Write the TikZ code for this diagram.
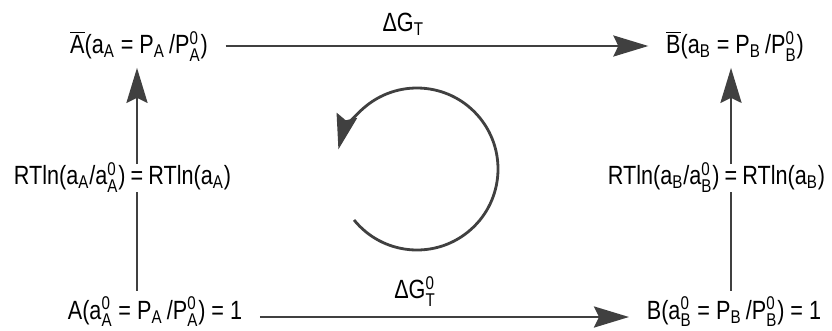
\documentclass[tikz,border=0pt]{standalone}
\usepackage{amsmath}
\usepackage{fontspec}
\setmainfont{Liberation Sans}[FakeStretch=0.82]
\usetikzlibrary{arrows.meta,positioning}
\newcommand{\supsub}[2]{\ensuremath{^{\text{#1}}_{\text{#2}}}}
\newcommand{\lowsub}[1]{\ensuremath{_{\text{#1}}}}
\begin{document}
\begin{tikzpicture}[
  font=\fontsize{15}{18}\selectfont,
  state/.style={inner xsep=0.35cm, inner ysep=0.12cm},
  eqsign/.style={inner xsep=0.5pt, inner ysep=0pt, minimum height=0.54cm},
  arr/.style={draw=black!75, line width=1.6pt,
    -{Stealth[length=0.7cm, width=0.42cm, inset=0.1cm]}},
  plain/.style={draw=black!75, line width=1.6pt}
]
\useasboundingbox (0,0) rectangle (16.64,6.6);

\node[state] (Ab) at (2.78,5.68) {$\overline{\mbox{A}}$(a\lowsub{A} = P\lowsub{A}\,/P\supsub{0}{A})};
\node[state] (Bb) at (14.70,5.68) {$\overline{\mbox{B}}$(a\lowsub{B} = P\lowsub{B}\,/P\supsub{0}{B})};
\node[state] (A) at (3.10,0.36) {A(a\supsub{0}{A} = P\lowsub{A}\,/P\supsub{0}{A}) = 1};
\node[state] (B) at (14.68,0.36) {B(a\supsub{0}{B} = P\lowsub{B}\,/P\supsub{0}{B}) = 1};

\node[eqsign] (eqA) at (2.74,3.04) {=};
\node[anchor=base east, inner sep=0pt] (lA) at ([xshift=-2pt]eqA.base west) {RTln(a\lowsub{A}/a\supsub{0}{A})};
\node[anchor=base west, inner sep=0pt] (rA) at ([xshift=2pt]eqA.base east) {RTln(a\lowsub{A})};

\node[eqsign] (eqB) at (14.62,3.04) {=};
\node[anchor=base east, inner sep=0pt] (lB) at ([xshift=-2pt]eqB.base west) {RTln(a\lowsub{B}/a\supsub{0}{B})};
\node[anchor=base west, inner sep=0pt] (rB) at ([xshift=2pt]eqB.base east) {RTln(a\lowsub{B})};

\draw[arr] (Ab) -- (Bb) node[pos=0.42, above=2pt] (gT) {ΔG\lowsub{T}};
\draw[arr] ([yshift=-0.1cm]A.east) -- ([yshift=-0.1cm]B.west) node[pos=0.42, above=2pt] (gT0) {ΔG\supsub{0}{T}};

\draw[plain] (A.north -| eqA) -- (eqA.south);
\draw[arr] (eqA.north) -- (Ab.south -| eqA);
\draw[plain] (B.north -| eqB) -- (eqB.south);
\draw[arr] (eqB.north) -- (Bb.south -| eqB);

\coordinate (cyc) at (8.34,3.22);
\draw[arr] (cyc) ++(219:1.62) arc[start angle=219, end angle=526, radius=1.62];
\end{tikzpicture}
\end{document}
